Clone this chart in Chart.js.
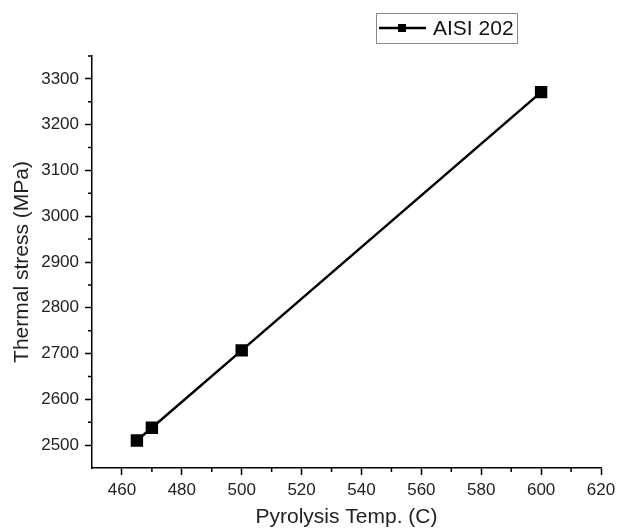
<!DOCTYPE html>
<html>
<head>
<meta charset="utf-8">
<script src="https://cdn.jsdelivr.net/npm/chart.js@4.4.0/dist/chart.umd.min.js"></script>
<style>
  html, body { margin: 0; padding: 0; background: #fff; }
  canvas { display: block; }
</style>
</head>
<body>
<canvas id="myChart" width="618" height="532"></canvas>
<script>
const temps = [465, 470, 500, 600];
const stress = [2510, 2538, 2707, 3271];
const seriesLabel = 'AISI 202';
const xTitle = 'Pyrolysis Temp. (C)';
const yTitle = 'Thermal stress (MPa)';
const xTickValues = [460, 480, 500, 520, 540, 560, 580, 600, 620];
const yTickValues = [2500, 2600, 2700, 2800, 2900, 3000, 3100, 3200, 3300];
const xMinorValues = [470, 490, 510, 530, 550, 570, 590, 610];
const yMinorValues = [2550, 2650, 2750, 2850, 2950, 3050, 3150, 3250, 3350];

const FONT = 'Arial, "Liberation Sans", sans-serif';

// short minor ticks between the labelled ones
const minorTicks = {
    id: 'minorTicks',
    afterDraw(chart) {
        const ctx = chart.ctx;
        const x = chart.scales.x, y = chart.scales.y;
        ctx.save();
        ctx.strokeStyle = '#000';
        ctx.lineWidth = 1.5;
        ctx.beginPath();
        xMinorValues.forEach(v => {
            const px = x.getPixelForValue(v);
            ctx.moveTo(px, x.top);
            ctx.lineTo(px, x.top + 4);
        });
        yMinorValues.forEach(v => {
            const py = y.getPixelForValue(v);
            ctx.moveTo(y.right, py);
            ctx.lineTo(y.right - 4, py);
        });
        ctx.stroke();
        ctx.restore();
    }
};

// boxed legend like the original
const boxLegend = {
    id: 'boxLegend',
    afterDraw(chart) {
        const ctx = chart.ctx;
        const ds = chart.data.datasets[0];
        ctx.save();
        ctx.strokeStyle = '#888';
        ctx.lineWidth = 1;
        ctx.strokeRect(376.5, 13.5, 141, 30);
        ctx.strokeStyle = '#000';
        ctx.lineWidth = 2.5;
        ctx.beginPath();
        ctx.moveTo(379, 28);
        ctx.lineTo(426, 28);
        ctx.stroke();
        ctx.fillStyle = '#000';
        ctx.fillRect(398, 24, 8, 8);
        ctx.font = '21px ' + FONT;
        ctx.textBaseline = 'middle';
        ctx.fillStyle = '#111';
        ctx.fillText(ds.label, 433, 29);
        ctx.restore();
    }
};

const data = {
    datasets: [{
        label: seriesLabel,
        data: temps.map((t, i) => ({x: t, y: stress[i]})),
        borderColor: '#000',
        backgroundColor: '#000',
        borderWidth: 2.5,
        pointStyle: 'rect',
        pointRadius: 7,
        pointHoverRadius: 7,
        tension: 0
    }]
};

const config = {
    type: 'line',
    data: data,
    plugins: [minorTicks, boxLegend],
    options: {
        responsive: false,
        animation: false,
        layout: { padding: { top: 56, right: 17, left: 0, bottom: 0 } },
        plugins: {
            legend: { display: false },
            tooltip: { enabled: false }
        },
        scales: {
            x: {
                type: 'linear',
                min: 450,
                max: 620,
                afterBuildTicks: (s) => { s.ticks = xTickValues.map(v => ({value: v})); },
                afterFit: (s) => { s.height = 64; s.paddingLeft = 0; s.paddingRight = 0; },
                border: { display: true, color: '#000', width: 1.5 },
                grid: {
                    drawOnChartArea: false,
                    tickLength: 7,
                    tickWidth: 1.5,
                    tickColor: '#000'
                },
                ticks: {
                    autoSkip: false,
                    maxRotation: 0,
                    padding: 5,
                    color: '#222',
                    font: { family: FONT, size: 17 },
                    callback: (v) => String(v)
                },
                title: {
                    display: true,
                    text: xTitle,
                    color: '#222',
                    padding: { top: 0, bottom: 2 },
                    font: { family: FONT, size: 21 }
                }
            },
            y: {
                min: 2450,
                max: 3350,
                afterBuildTicks: (s) => { s.ticks = yTickValues.map(v => ({value: v})); },
                afterFit: (s) => { s.width = 92; s.paddingTop = 0; s.paddingBottom = 0; },
                border: { display: true, color: '#000', width: 1.5 },
                grid: {
                    drawOnChartArea: false,
                    tickLength: 7,
                    tickWidth: 1.5,
                    tickColor: '#000'
                },
                ticks: {
                    autoSkip: false,
                    padding: 6,
                    color: '#222',
                    font: { family: FONT, size: 17 },
                    callback: (v) => String(v)
                },
                title: {
                    display: true,
                    text: yTitle,
                    color: '#222',
                    padding: { top: 10, bottom: 0 },
                    font: { family: FONT, size: 21 }
                }
            }
        }
    }
};

new Chart(document.getElementById('myChart').getContext('2d'), config);
</script>
</body>
</html>
